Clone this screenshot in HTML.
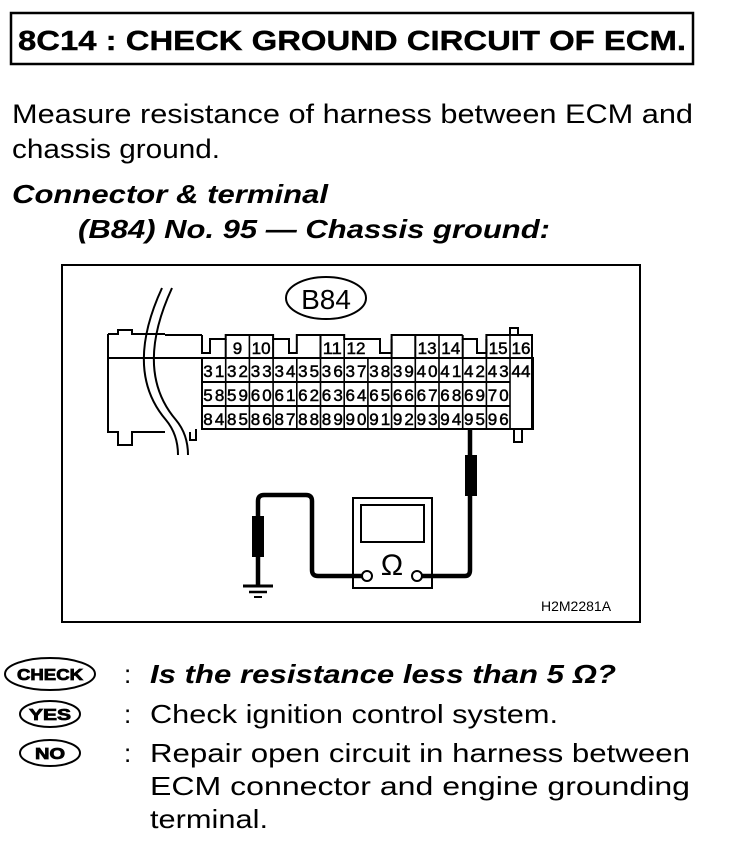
<!DOCTYPE html>
<html><head><style>html,body{margin:0;padding:0;background:#fff}svg{display:block}</style></head><body>
<svg width="736" height="842" viewBox="0 0 736 842" xmlns="http://www.w3.org/2000/svg" font-family="Liberation Sans, sans-serif">
<rect x="11" y="13" width="682" height="51" fill="none" stroke="#000" stroke-width="2.5"/>
<text x="18" y="50" font-size="28" font-weight="bold" textLength="668" lengthAdjust="spacingAndGlyphs" stroke="#000" stroke-width="0.4">8C14 :   CHECK GROUND CIRCUIT OF ECM.</text>
<text x="12" y="123" font-size="27" textLength="681" lengthAdjust="spacingAndGlyphs">Measure resistance of harness between ECM and</text>
<text x="12" y="158" font-size="27" textLength="208" lengthAdjust="spacingAndGlyphs">chassis ground.</text>
<text x="12" y="203" font-size="26" font-weight="bold" font-style="italic" textLength="316" lengthAdjust="spacingAndGlyphs">Connector &amp; terminal</text>
<text x="78" y="238" font-size="26" font-weight="bold" font-style="italic" textLength="472" lengthAdjust="spacingAndGlyphs">(B84) No. 95 — Chassis ground:</text>

<rect x="62" y="265" width="578" height="357" fill="none" stroke="#000" stroke-width="2"/>
<ellipse cx="326" cy="298" rx="40" ry="21" fill="none" stroke="#000" stroke-width="2"/>
<text x="326" y="309" font-size="28" text-anchor="middle">B84</text>

<g stroke="#000" stroke-width="2" fill="none">
<path d="M108 334 H118 V330 H132 V334 H165 M108 334 V432 H118 V445 H132 V432 H165 M108 334 V432"/>
<line x1="165" y1="335" x2="202" y2="335"/>
<line x1="108" y1="358" x2="202" y2="358"/>
<path d="M190 432 V440 H196 V429"/>
<path d="M510 335 V328 H518 V335 M510 335 H532 V429 H510"/>
<path d="M514 429 V442 H522 V429"/>
<rect x="202" y="358" width="331" height="71"/>
<line x1="202" y1="382" x2="510" y2="382"/>
<line x1="202" y1="406" x2="510" y2="406"/>
</g>
<g stroke="#000" stroke-width="1.6">
<line x1="225.7" y1="358" x2="225.7" y2="429"/><line x1="249.4" y1="335" x2="249.4" y2="429"/>
<line x1="273.1" y1="358" x2="273.1" y2="429"/><line x1="296.8" y1="358" x2="296.8" y2="429"/>
<line x1="320.5" y1="358" x2="320.5" y2="429"/><line x1="344.2" y1="335" x2="344.2" y2="429"/>
<line x1="367.9" y1="358" x2="367.9" y2="429"/><line x1="391.6" y1="358" x2="391.6" y2="429"/>
<line x1="415.3" y1="358" x2="415.3" y2="429"/><line x1="439" y1="335" x2="439" y2="429"/>
<line x1="462.7" y1="358" x2="462.7" y2="429"/><line x1="486.4" y1="358" x2="486.4" y2="429"/>
<line x1="510" y1="335" x2="510" y2="429"/>
</g>
<g stroke="#000" stroke-width="2" fill="none">
<path d="M202 335 V353 H210 V339 H225.7 V335 H273.1 V339 H289 V353 H296.8 V335 H344.2 V339 H380 V353 H391.6 V335 H439 M462.7 335 V339 H477 V353 H486.4 V335 H533"/>
<path d="M439 335 H462.7"/>
<line x1="225.7" y1="339" x2="225.7" y2="358"/>
<line x1="273.1" y1="339" x2="273.1" y2="358"/>
<line x1="391.6" y1="339" x2="391.6" y2="358"/>
<line x1="486.4" y1="339" x2="486.4" y2="358"/>
<line x1="462.7" y1="339" x2="462.7" y2="358"/>
<line x1="320.5" y1="335" x2="320.5" y2="358"/>
<line x1="415.3" y1="335" x2="415.3" y2="358"/>
</g>
<g font-size="17" text-anchor="middle" stroke="#000" stroke-width="0.5">
<text x="237.5" y="354">9</text><text x="261.2" y="354" textLength="19" lengthAdjust="spacingAndGlyphs">10</text>
<text x="332.3" y="354" textLength="19" lengthAdjust="spacingAndGlyphs">11</text><text x="356" y="354" textLength="19" lengthAdjust="spacingAndGlyphs">12</text>
<text x="427.1" y="354" textLength="19" lengthAdjust="spacingAndGlyphs">13</text><text x="450.8" y="354" textLength="19" lengthAdjust="spacingAndGlyphs">14</text>
<text x="498.2" y="354" textLength="19" lengthAdjust="spacingAndGlyphs">15</text><text x="521" y="354" textLength="19" lengthAdjust="spacingAndGlyphs">16</text>
</g>
<g font-size="17" text-anchor="middle" stroke="#000" stroke-width="0.5" lengthAdjust="spacingAndGlyphs">
<text x="213.8" y="377" textLength="21">31</text><text x="237.5" y="377" textLength="21">32</text><text x="261.2" y="377" textLength="21">33</text><text x="285" y="377" textLength="21">34</text><text x="308.6" y="377" textLength="21">35</text><text x="332.3" y="377" textLength="21">36</text><text x="356" y="377" textLength="21">37</text><text x="379.7" y="377" textLength="21">38</text><text x="403.4" y="377" textLength="21">39</text><text x="427.1" y="377" textLength="21">40</text><text x="450.8" y="377" textLength="21">41</text><text x="474.5" y="377" textLength="21">42</text><text x="498.2" y="377" textLength="21">43</text><text x="521" y="377" textLength="19">44</text>
<text x="213.8" y="401" textLength="21">58</text><text x="237.5" y="401" textLength="21">59</text><text x="261.2" y="401" textLength="21">60</text><text x="285" y="401" textLength="21">61</text><text x="308.6" y="401" textLength="21">62</text><text x="332.3" y="401" textLength="21">63</text><text x="356" y="401" textLength="21">64</text><text x="379.7" y="401" textLength="21">65</text><text x="403.4" y="401" textLength="21">66</text><text x="427.1" y="401" textLength="21">67</text><text x="450.8" y="401" textLength="21">68</text><text x="474.5" y="401" textLength="21">69</text><text x="498.2" y="401" textLength="21">70</text>
<text x="213.8" y="425" textLength="21">84</text><text x="237.5" y="425" textLength="21">85</text><text x="261.2" y="425" textLength="21">86</text><text x="285" y="425" textLength="21">87</text><text x="308.6" y="425" textLength="21">88</text><text x="332.3" y="425" textLength="21">89</text><text x="356" y="425" textLength="21">90</text><text x="379.7" y="425" textLength="21">91</text><text x="403.4" y="425" textLength="21">92</text><text x="427.1" y="425" textLength="21">93</text><text x="450.8" y="425" textLength="21">94</text><text x="474.5" y="425" textLength="21">95</text><text x="498.2" y="425" textLength="21">96</text>
</g>
<g stroke="#000" stroke-width="2" fill="none">
<path d="M162 288 C138 340, 136 385, 166 420 C176 432, 178 445, 178 455"/>
<path d="M172 288 C148 340, 146 385, 176 420 C186 432, 188 445, 188 455"/>
</g>
<g stroke="#000" fill="none">
<rect x="353" y="498" width="79" height="90" stroke-width="2"/>
<rect x="361" y="505" width="63" height="37" stroke-width="2"/>
<circle cx="367" cy="576" r="5" stroke-width="2"/>
<circle cx="417" cy="576" r="5" stroke-width="2"/>
<path d="M362 576 H318 Q312 576 312 570 V501 Q312 495 306 495 H264 Q258 495 258 501 V586" stroke-width="4.5"/>
<path d="M422 576 H465 Q470 576 470 570 V429" stroke-width="4.5"/>
<line x1="243" y1="586" x2="273" y2="586" stroke-width="3"/>
<line x1="249" y1="592" x2="267" y2="592" stroke-width="2.5"/>
<line x1="254" y1="597" x2="262" y2="597" stroke-width="2"/>
</g>
<rect x="252" y="516" width="12" height="41" fill="#000"/>
<rect x="465" y="455" width="12" height="41" fill="#000"/>
<text x="392" y="575" font-size="30" text-anchor="middle">Ω</text>
<text x="541" y="611" font-size="14">H2M2281A</text>

<g stroke="#000" stroke-width="2" fill="none">
<ellipse cx="50" cy="674" rx="45" ry="16"/>
<ellipse cx="50" cy="714" rx="30" ry="13"/>
<ellipse cx="50" cy="753" rx="30" ry="13"/>
</g>
<g font-weight="bold" text-anchor="middle" stroke="#000" stroke-width="0.8">
<text x="50" y="680" font-size="16" textLength="66" lengthAdjust="spacingAndGlyphs">CHECK</text>
<text x="50" y="720" font-size="16" textLength="42" lengthAdjust="spacingAndGlyphs">YES</text>
<text x="50" y="759" font-size="16" textLength="30" lengthAdjust="spacingAndGlyphs">NO</text>
</g>
<g font-size="26">
<text x="124" y="683">:</text><text x="124" y="723">:</text><text x="124" y="762">:</text>
<text x="150" y="683" font-weight="bold" font-style="italic" textLength="466" lengthAdjust="spacingAndGlyphs">Is the resistance less than 5 Ω?</text>
<text x="150" y="723" textLength="408" lengthAdjust="spacingAndGlyphs">Check ignition control system.</text>
<text x="150" y="762" textLength="540" lengthAdjust="spacingAndGlyphs">Repair open circuit in harness between</text>
<text x="150" y="795" textLength="540" lengthAdjust="spacingAndGlyphs">ECM connector and engine grounding</text>
<text x="150" y="828" textLength="118" lengthAdjust="spacingAndGlyphs">terminal.</text>
</g>
</svg>
</body></html>
